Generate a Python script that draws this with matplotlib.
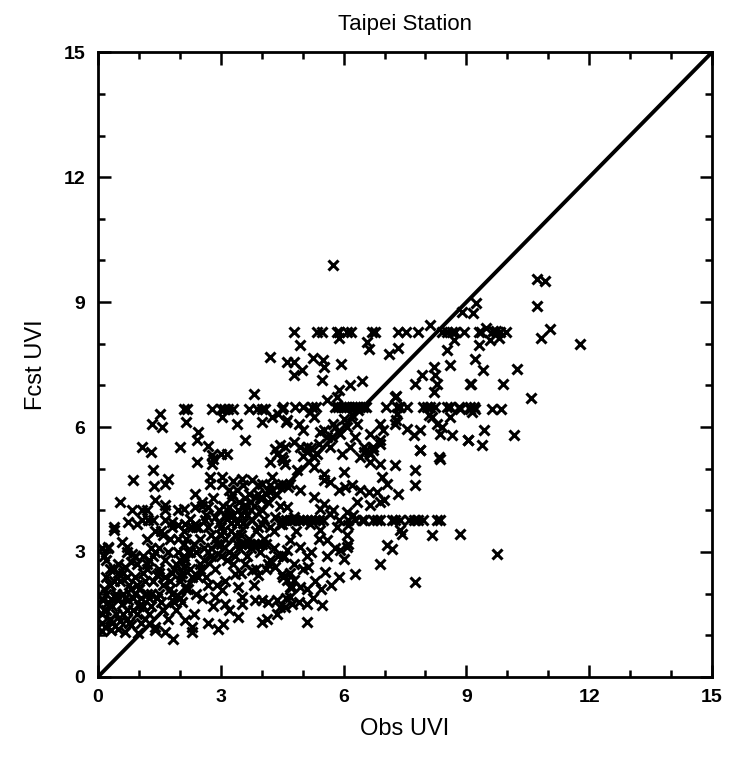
import numpy as np
import matplotlib
matplotlib.use("Agg")
import matplotlib.pyplot as plt
from matplotlib.ticker import MultipleLocator

# ---- data (Obs UVI, Fcst UVI) ----
# outliers / upper right
obs_upper = [5.75, 10.72, 10.91, 10.72, 9.24, 9.16, 8.89, 11.05, 10.83, 11.78, 9.75, 8.12]
fcst_upper = [9.88, 9.56, 9.50, 8.91, 8.99, 8.75, 8.76, 8.35, 8.15, 8.00, 2.95, 8.44]

# forecast level ~8.3
obs_band83 = [4.79, 5.36, 5.47, 5.84, 5.90, 6.08, 6.18, 6.69, 6.77, 7.34, 7.53, 7.82,
              8.40, 8.52, 8.65, 8.73, 8.93, 9.30, 9.36, 9.66, 9.73, 9.81, 9.97]
fcst_band83 = [8.28, 8.28, 8.28, 8.28, 8.28, 8.28, 8.28, 8.28, 8.28, 8.28, 8.28, 8.28,
               8.28, 8.28, 8.28, 8.28, 8.28, 8.28, 8.28, 8.31, 8.31, 8.28, 8.28]

# between 6.6 and 8.1
obs_mid = [6.57, 6.61, 4.94, 7.10, 7.32, 4.61, 4.78, 5.25, 5.49, 5.51, 5.94, 4.98,
           4.78, 5.47, 6.16, 6.45, 5.85, 5.59, 7.29, 7.75, 7.91, 8.20, 8.24, 8.28,
           8.20, 8.61, 9.10, 8.52, 8.69, 9.30, 9.22, 9.40, 10.24, 9.11, 9.89, 10.59,
           4.21, 3.80, 9.49, 9.57, 9.79, 5.88, 5.88, 7.26]
fcst_mid = [8.04, 7.88, 7.96, 7.76, 7.91, 7.56, 7.56, 7.67, 7.60, 7.44, 7.51, 7.36,
            7.24, 7.12, 7.00, 7.11, 6.72, 6.64, 6.74, 7.03, 7.24, 7.44, 7.24, 7.04,
            6.84, 7.48, 7.03, 7.84, 8.08, 7.96, 7.64, 7.38, 7.40, 7.03, 7.03, 6.70,
            7.68, 6.79, 8.39, 8.08, 8.15, 8.15, 6.90, 6.72]

# forecast level ~6.45
obs_band65 = [2.09, 2.17, 2.78, 3.01, 3.09, 3.17, 3.31, 3.68, 3.88, 4.00, 4.08, 4.49,
              4.53, 4.82, 5.00, 5.22, 5.33, 5.80, 5.87, 5.93, 6.00, 6.07, 6.13, 6.20,
              6.27, 6.33, 6.40, 6.47, 6.55, 7.04, 7.30, 7.37, 7.55, 7.95, 8.04, 8.12,
              8.24, 8.52, 8.61, 8.81, 8.85, 9.08, 9.10, 9.18, 9.22, 9.62, 9.84, 9.14]
fcst_band65 = [6.44, 6.44, 6.44, 6.44, 6.44, 6.44, 6.44, 6.44, 6.44, 6.44, 6.44, 6.44,
               6.48, 6.48, 6.48, 6.48, 6.48, 6.48, 6.48, 6.48, 6.48, 6.48, 6.48, 6.48,
               6.48, 6.48, 6.48, 6.48, 6.48, 6.48, 6.48, 6.48, 6.48, 6.48, 6.48, 6.48,
               6.48, 6.48, 6.48, 6.48, 6.44, 6.44, 6.48, 6.48, 6.44, 6.44, 6.44, 6.36]

# between 5.2 and 6.4
obs_56 = [4.61, 5.18, 5.27, 4.90, 5.02, 5.75, 7.30, 7.29, 7.26, 6.90, 6.96, 7.55,
          7.71, 7.87, 8.08, 8.16, 8.28, 8.40, 8.61, 8.36, 8.65, 9.05, 7.87, 8.32,
          6.90, 6.65, 6.73, 6.49, 6.65, 6.16, 5.51, 5.71, 5.43, 4.78, 4.57, 4.49,
          5.10, 5.27, 5.92, 6.08, 6.32, 6.28, 5.96, 9.42, 9.03, 9.38, 10.17,
          5.40, 5.60, 5.80, 6.00, 6.20, 6.35, 5.20, 5.00,
          1.52, 1.31, 1.56, 2.14, 3.02, 3.39, 4.00, 4.25, 4.39, 4.59, 3.58, 2.45,
          2.41, 1.07, 1.30, 2.00, 2.68, 2.78, 3.01, 3.15, 4.33, 4.45, 4.37]
fcst_56 = [6.16, 6.36, 6.24, 6.08, 5.92, 6.08, 6.32, 6.16, 6.08, 6.08, 5.92, 5.96,
           5.80, 5.92, 6.28, 6.24, 6.08, 6.00, 6.24, 5.84, 5.80, 5.68, 5.44, 5.28,
           5.68, 5.84, 5.52, 5.40, 5.36, 5.52, 5.92, 5.76, 5.88, 5.64, 5.52, 5.28,
           5.40, 5.28, 5.84, 6.00, 6.08, 5.76, 5.36, 5.92, 5.68, 5.56, 5.80,
           5.60, 5.75, 6.00, 6.20, 6.30, 6.40, 5.50, 5.30,
           6.31, 6.07, 6.00, 6.12, 6.24, 6.08, 6.12, 6.23, 6.31, 6.12, 5.70, 5.88,
           5.70, 5.51, 5.40, 5.51, 5.54, 5.32, 5.36, 5.36, 5.48, 5.56, 5.36]

# low obs, upper part (x < 4.8, 3.5 < y < 5.3)
obs_left_hi = [2.41, 2.78, 2.82, 4.20, 4.57, 1.35, 0.86, 1.38, 1.65, 1.72, 2.74, 2.74,
               3.02, 3.02, 3.51, 2.37, 3.19, 3.27, 3.76, 4.00, 4.16, 4.49, 4.65, 0.54,
               0.82, 1.07, 1.19, 1.39, 1.64, 1.64, 1.96, 2.09, 2.37, 2.53, 2.70, 0.38,
               0.38, 0.74, 0.95, 1.07, 1.23, 1.35, 1.64, 1.80, 1.96, 2.13, 2.37, 2.62,
               2.86, 3.10, 3.19, 3.43, 3.60, 3.84, 3.76, 4.00, 4.33, 4.49, 4.73]
fcst_left_hi = [5.16, 5.12, 5.24, 5.16, 5.12, 4.96, 4.74, 4.58, 4.64, 4.76, 4.80, 4.64,
                4.80, 4.64, 4.76, 4.40, 4.48, 4.40, 4.72, 4.64, 4.48, 4.64, 4.56, 4.20,
                4.00, 4.00, 4.00, 4.24, 4.12, 4.00, 4.00, 4.04, 4.08, 4.20, 4.08, 3.60,
                3.52, 3.72, 3.68, 3.76, 3.76, 3.76, 3.76, 3.72, 3.64, 3.68, 3.68, 3.76,
                3.84, 3.88, 4.08, 4.00, 4.12, 4.32, 3.76, 3.68, 3.84, 3.68, 3.76]

# low obs, lower part
obs_left_lo = [0.25, 0.58, 0.70, 0.82, 0.90, 0.50, 0.95, 0.09, 0.25, 0.42, 0.58, 0.74,
               0.17, 0.33, 0.50, 0.66, 0.99, 1.84, 1.39, 1.64, 2.13, 2.29, 2.29, 2.70,
               2.94, 3.06, 3.19, 3.43, 3.51, 3.84, 4.00, 4.16, 4.37, 4.00, 4.12, 4.37,
               4.57, 4.73, 3.76, 3.92, 4.16, 4.33, 4.53, 4.61, 4.73, 4.49, 3.43, 3.51,
               3.35, 3.02, 2.86, 3.10, 2.04, 2.09, 2.13,
               0.10, 0.10, 0.12, 0.15, 0.20, 0.10, 0.25, 0.30, 0.15]
fcst_left_lo = [3.12, 3.24, 3.12, 2.96, 2.88, 2.72, 2.72, 1.88, 1.80, 1.92, 1.76, 1.84,
                1.20, 1.12, 1.16, 1.08, 1.06, 0.92, 1.12, 1.08, 1.36, 1.20, 1.08, 1.30,
                1.16, 1.28, 1.60, 1.44, 1.76, 1.84, 1.84, 1.80, 1.84, 1.32, 1.40, 1.52,
                1.68, 1.76, 2.56, 2.44, 2.72, 2.64, 2.88, 2.32, 2.16, 2.48, 2.16, 1.92,
                2.48, 2.08, 1.92, 1.76, 2.40, 2.64, 2.80,
                1.10, 1.50, 1.85, 2.10, 2.40, 3.10, 3.10, 2.60, 2.90]

# dense cluster along the diagonal (x < 4.5)
obs_dense = [0.35, 0.45, 0.55, 0.60, 0.70, 0.75, 0.80, 0.85, 0.90, 0.95, 1.00, 0.40,
             0.50, 0.65, 0.80,
             1.05, 1.10, 1.15, 1.20, 1.25, 1.30, 1.35, 1.40, 1.45, 1.50, 1.55, 1.60,
             1.65, 1.70, 1.75, 1.80, 1.85, 1.90, 1.95, 2.00, 1.20, 1.40, 1.60, 1.10,
             1.30,
             2.05, 2.10, 2.15, 2.20, 2.25, 2.30, 2.35, 2.40, 2.45, 2.50, 2.55, 2.60,
             2.65, 2.70, 2.75, 2.80, 2.85, 2.90, 2.95, 3.00,
             3.05, 3.10, 3.15, 3.20, 3.25, 3.30, 3.35, 3.40, 3.45, 3.50, 3.55, 3.60,
             3.65, 3.70, 3.75, 3.80, 3.85, 3.90, 3.95, 4.00, 4.05, 4.10, 4.15, 4.20,
             4.25, 4.30, 4.35, 4.40, 4.45,
             3.40, 3.50, 3.60, 3.70, 3.80, 3.90, 4.00, 4.10,
             0.20, 0.45, 0.70, 1.00, 1.25, 1.50, 1.75, 2.00, 2.25, 2.50, 2.75, 3.00,
             3.25, 3.50, 3.75, 4.00, 4.25, 0.30, 0.60, 0.90, 1.20, 1.50, 1.80, 2.10,
             2.40, 2.70, 3.00, 3.30, 3.60, 3.90, 4.20]
fcst_dense = [1.30, 1.50, 1.35, 2.00, 1.60, 2.20, 1.25, 1.90, 2.40, 1.50, 2.10, 2.30,
              2.50, 2.65, 2.75,
              1.30, 1.70, 2.30, 2.60, 1.50, 2.00, 2.90, 1.20, 2.45, 3.10, 1.80, 2.20,
              2.80, 1.40, 3.30, 2.00, 2.60, 1.60, 3.00, 2.30, 3.30, 3.50, 3.40, 2.90,
              3.10,
              1.80, 2.90, 3.30, 2.10, 2.60, 3.60, 1.50, 3.00, 2.40, 3.30, 1.90, 2.80,
              3.90, 2.20, 3.40, 1.70, 2.60, 3.20, 4.00, 2.90,
              3.50, 2.30, 3.80, 3.00, 4.30, 2.70, 3.40, 4.50, 3.10, 2.50, 3.70, 4.30,
              2.90, 3.30, 4.00, 2.20, 3.50, 4.60, 3.00, 4.00, 3.30, 2.60, 4.20, 3.60,
              4.80, 3.10, 4.40, 2.90, 4.10,
              3.20, 3.20, 3.20, 3.20, 3.20, 3.20, 3.20, 3.20,
              1.60, 1.90, 1.40, 1.70, 1.90, 2.50, 2.30, 2.80, 3.00, 2.60, 3.10, 3.40,
              3.70, 3.90, 4.20, 4.30, 4.50, 2.20, 2.50, 2.00, 2.70, 2.00, 2.50, 3.20,
              3.60, 3.00, 3.60, 3.90, 4.00, 4.40, 4.60]

# more of the saturated cluster (x < 4.5)
obs_dense2 = [0.10, 0.15, 0.20, 0.30, 0.35, 0.40, 0.45, 0.55, 0.60, 0.65, 0.70, 0.75,
              0.80, 0.85, 0.90, 0.95, 0.30, 0.50, 0.70, 0.20,
              1.05, 1.10, 1.15, 1.20, 1.25, 1.30, 1.35, 1.40, 1.45, 1.50, 1.55, 1.60,
              1.65, 1.70, 1.75, 1.80, 1.85, 1.90, 1.95, 2.00,
              2.05, 2.10, 2.15, 2.20, 2.25, 2.30, 2.35, 2.40, 2.45, 2.50, 2.55, 2.60,
              2.65, 2.70, 2.75, 2.80, 2.85, 2.90, 2.95, 3.00,
              3.05, 3.10, 3.15, 3.20, 3.25, 3.30, 3.35, 3.40, 3.45, 3.50, 3.55, 3.60,
              3.65, 3.70, 3.75, 3.80, 3.85, 3.90, 3.95, 4.05, 4.10, 4.20, 4.30, 4.40]
fcst_dense2 = [1.30, 1.60, 2.00, 2.20, 1.70, 2.60, 2.00, 2.30, 1.50, 1.90, 2.40, 1.30,
               2.10, 1.60, 2.90, 2.20, 1.40, 1.90, 3.00, 2.80,
               1.90, 2.50, 1.40, 2.00, 2.80, 1.70, 2.30, 3.00, 1.90, 2.60, 3.50, 1.60,
               2.40, 3.00, 2.10, 3.60, 1.80, 2.70, 3.30, 1.90,
               2.50, 3.50, 2.10, 3.00, 3.80, 2.40, 3.20, 2.00, 3.60, 2.70, 4.10, 3.10,
               2.40, 3.60, 2.90, 4.30, 3.30, 2.20, 3.70, 3.20,
               4.10, 3.30, 2.80, 3.90, 3.50, 4.70, 2.90, 3.70, 4.20, 3.40, 4.60, 2.70,
               3.90, 4.40, 3.10, 4.10, 2.60, 3.60, 4.30, 3.80, 4.40, 2.80, 3.50, 4.60]

# obs 4.4 - 9.4, fcst < 5.6
obs_right_lo = [4.94, 6.49, 6.61, 6.73, 6.90, 6.41, 6.65, 6.90, 7.87, 8.36, 7.26, 7.75,
                7.75, 6.00, 6.94, 7.06, 5.51, 5.67, 5.88, 6.04, 6.20, 6.41, 6.61, 6.81,
                7.34, 6.32, 6.65, 6.90, 6.98, 6.08, 6.24, 6.45,
                4.50, 4.60, 4.70, 4.80, 4.90, 5.00, 5.10, 5.20, 5.30, 5.40, 5.50, 5.88,
                6.12, 6.28, 6.49, 6.73, 6.81, 6.90, 7.18, 7.26, 7.38, 7.59, 7.71, 7.83,
                7.95, 8.28, 8.36,
                6.12, 7.38, 7.42, 8.16, 8.85, 6.08, 6.12, 7.06, 7.18, 6.00, 6.90, 5.10,
                5.14, 5.55, 5.88, 6.28, 7.75, 5.10, 5.47, 5.10, 4.69, 4.45,
                4.53, 4.86, 5.27, 5.51, 5.67, 5.35, 5.10, 4.69, 4.94, 5.27, 5.51, 5.75,
                4.61, 4.78, 5.18, 5.43, 5.59, 5.84, 6.08, 5.92, 4.61, 4.78, 4.53, 4.78,
                4.94, 5.10, 4.69, 5.67, 5.43, 4.45, 4.69, 4.94,
                4.55, 4.70, 4.85, 5.00, 5.20, 5.30, 5.40, 5.60, 5.70, 5.80, 4.60, 4.90,
                5.25, 5.45]
fcst_right_lo = [5.52, 5.52, 5.40, 5.44, 5.60, 5.28, 5.16, 5.12, 5.44, 5.24, 5.08, 4.96,
                 4.60, 4.92, 4.80, 4.64, 4.72, 4.68, 4.48, 4.56, 4.60, 4.48, 4.44, 4.44,
                 4.40, 4.20, 4.12, 4.20, 4.24, 3.96, 3.88, 3.76,
                 3.76, 3.76, 3.76, 3.76, 3.76, 3.76, 3.76, 3.76, 3.76, 3.76, 3.76, 3.76,
                 3.76, 3.76, 3.76, 3.76, 3.76, 3.76, 3.76, 3.76, 3.76, 3.76, 3.76, 3.76,
                 3.76, 3.76, 3.76,
                 3.64, 3.52, 3.44, 3.40, 3.44, 3.40, 3.20, 3.16, 3.08, 2.82, 2.71, 2.90,
                 2.64, 2.52, 2.40, 2.48, 2.28, 1.76, 1.72, 1.32, 1.92, 1.68,
                 5.20, 4.96, 5.04, 4.88, 5.52, 5.36, 5.52, 4.64, 4.48, 4.32, 4.16, 4.00,
                 4.08, 3.84, 3.68, 3.52, 3.28, 3.60, 3.12, 3.04, 3.04, 2.72, 2.40, 2.32,
                 2.16, 2.12, 2.16, 3.92, 4.04, 3.68, 3.28, 3.12,
                 2.90, 2.50, 3.50, 2.60, 3.00, 2.30, 3.30, 2.90, 2.20, 3.10, 1.90, 1.80,
                 1.90, 2.10]

obs = np.concatenate([obs_upper, obs_band83, obs_mid, obs_band65, obs_56,
                      obs_left_hi, obs_left_lo, obs_dense, obs_dense2, obs_right_lo])
fcst = np.concatenate([fcst_upper, fcst_band83, fcst_mid, fcst_band65, fcst_56,
                       fcst_left_hi, fcst_left_lo, fcst_dense, fcst_dense2, fcst_right_lo])

tick_vals = [0, 3, 6, 9, 12, 15]


def plot_chart():
    plt.rcParams['font.family'] = ['Liberation Sans', 'DejaVu Sans']

    fig = plt.figure(figsize=(7.31, 7.58), dpi=100)
    ax = fig.add_axes([0.134, 0.107, 0.840, 0.824])

    ax.plot(obs, fcst, linestyle='none', marker='x', color='black',
            markersize=6.5, markeredgewidth=2.2)
    ax.plot([0, 15], [0, 15], color='black', linewidth=2.8)

    ax.set_xlim(0, 15)
    ax.set_ylim(0, 15)
    ax.set_xticks(tick_vals)
    ax.set_yticks(tick_vals)
    ax.xaxis.set_minor_locator(MultipleLocator(1))
    ax.yaxis.set_minor_locator(MultipleLocator(1))
    ax.tick_params(which='both', direction='in', top=True, right=True, width=1.8)
    ax.tick_params(which='major', length=9, pad=9, labelsize=14)
    ax.tick_params(which='minor', length=5)
    for lab in ax.get_xticklabels() + ax.get_yticklabels():
        lab.set_fontweight('bold')
    for sp in ax.spines.values():
        sp.set_linewidth(2)

    ax.set_title('Taipei Station', fontsize=16, pad=16)
    ax.set_xlabel('Obs UVI', fontsize=17, labelpad=8)
    ax.set_ylabel('Fcst UVI', fontsize=17, labelpad=12)

    fig.savefig('out.png', dpi=100)


if __name__ == "__main__":
    plot_chart()
